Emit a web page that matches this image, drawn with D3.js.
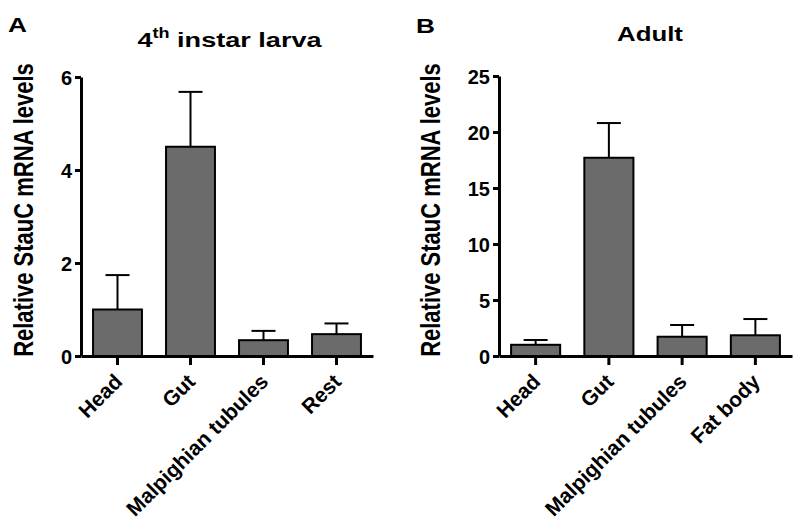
<!DOCTYPE html>
<html>
<head>
<meta charset="utf-8">
<script src="https://cdn.jsdelivr.net/npm/d3@7"></script>
<style>
  body { margin: 0; background: #fff; }
  svg text { font-family: "Liberation Sans", Arial, sans-serif; font-weight: bold; fill: #000; }
</style>
</head>
<body>
<div id="chart"></div>
<script>
// panel A - 4th instar larva
const larvaTissues = ["Head", "Gut", "Malpighian tubules", "Rest"];
const larvaMeans = [1.0, 4.5, 0.34, 0.47];
const larvaErrors = [0.74, 1.18, 0.2, 0.23];
const larvaTicks = [0, 2, 4, 6];

// panel B - adult
const adultTissues = ["Head", "Gut", "Malpighian tubules", "Fat body"];
const adultMeans = [1.0, 17.7, 1.72, 1.85];
const adultErrors = [0.43, 3.1, 1.05, 1.45];
const adultTicks = [0, 5, 10, 15, 20, 25];

const width = 800;
const height = 529;
const barFill = "#6b6b6b";
// the original figure is a bit stretched sideways for the big labels
const stretch = 1.25;

const svg = d3
  .select("#chart")
  .append("svg")
  .attr("width", width)
  .attr("height", height);

const drawPanel = (opts) => {
  const g = svg.append("g");

  const x = d3
    .scaleBand()
    .domain(opts.tissues)
    .range([opts.left, opts.right])
    .paddingInner(0.33)
    .paddingOuter(0.165);

  const y = d3
    .scaleLinear()
    .domain([0, opts.max])
    .range([opts.bottom, opts.top]);

  const rows = opts.tissues.map((t, i) => ({
    name: t,
    mean: opts.means[i],
    err: opts.errors[i],
  }));

  // error bars (upper only), drawn under the bars
  const eb = g.append("g").attr("class", "errors");
  eb.selectAll("line.stem")
    .data(rows)
    .enter()
    .append("line")
    .attr("x1", (d) => x(d.name) + x.bandwidth() / 2)
    .attr("x2", (d) => x(d.name) + x.bandwidth() / 2)
    .attr("y1", (d) => y(d.mean))
    .attr("y2", (d) => y(d.mean + d.err))
    .attr("stroke", "#000")
    .attr("stroke-width", 2);
  eb.selectAll("line.cap")
    .data(rows)
    .enter()
    .append("line")
    .attr("x1", (d) => x(d.name) + x.bandwidth() / 2 - 12)
    .attr("x2", (d) => x(d.name) + x.bandwidth() / 2 + 12)
    .attr("y1", (d) => y(d.mean + d.err))
    .attr("y2", (d) => y(d.mean + d.err))
    .attr("stroke", "#000")
    .attr("stroke-width", 2);

  g.append("g")
    .selectAll("rect")
    .data(rows)
    .enter()
    .append("rect")
    .attr("x", (d) => x(d.name))
    .attr("y", (d) => y(d.mean))
    .attr("width", x.bandwidth())
    .attr("height", (d) => y(0) - y(d.mean))
    .attr("fill", barFill)
    .attr("stroke", "#000")
    .attr("stroke-width", 2);

  const yAxis = d3
    .axisLeft(y)
    .tickValues(opts.ticks)
    .tickFormat(d3.format("d"))
    .tickSize(6)
    .tickSizeOuter(0)
    .tickPadding(3);

  const ya = g
    .append("g")
    .attr("transform", `translate(${opts.left}, 0)`)
    .call(yAxis);
  ya.selectAll("path, line").attr("stroke", "#000").attr("stroke-width", 3);
  ya.selectAll("text").style("font-size", "20px").attr("dy", "0.36em");

  const xAxis = d3.axisBottom(x).tickSize(9).tickSizeOuter(0);
  const xa = g
    .append("g")
    .attr("transform", `translate(0, ${opts.bottom})`)
    .call(xAxis);
  xa.selectAll("path, line").attr("stroke", "#000").attr("stroke-width", 3);
  xa.selectAll("text")
    .style("font-size", "21px")
    .attr("x", 0)
    .attr("y", 0)
    .attr("dy", 0)
    .attr("text-anchor", "end")
    .attr("transform", "translate(6, 27) rotate(-45)");

  g.append("text")
    .attr(
      "transform",
      `translate(${opts.labelX}, 210) scale(${stretch}, 1) rotate(-90)`
    )
    .attr("text-anchor", "middle")
    .style("font-size", "22px")
    .text("Relative StauC mRNA levels");

  g.append("text")
    .attr(
      "transform",
      `translate(${opts.letterX}, ${opts.letterY}) scale(${stretch}, 1)`
    )
    .style("font-size", "21px")
    .text(opts.letter);

  const title = g
    .append("text")
    .attr(
      "transform",
      `translate(${opts.titleX}, ${opts.titleY}) scale(${opts.titleStretch}, 1)`
    )
    .attr("text-anchor", "middle")
    .style("font-size", "21px");
  opts.title(title);
};

drawPanel({
  tissues: larvaTissues,
  means: larvaMeans,
  errors: larvaErrors,
  ticks: larvaTicks,
  max: 6,
  left: 81,
  right: 373,
  top: 77,
  bottom: 356,
  labelX: 33,
  letter: "A",
  letterX: 8,
  letterY: 32,
  titleX: 229.5,
  titleY: 47,
  titleStretch: 1.29,
  title: (t) => {
    t.append("tspan").text("4");
    t.append("tspan").attr("dy", -9).style("font-size", "14px").text("th");
    t.append("tspan").attr("dy", 9).text(" instar larva");
  },
});

drawPanel({
  tissues: adultTissues,
  means: adultMeans,
  errors: adultErrors,
  ticks: adultTicks,
  max: 25,
  left: 499,
  right: 792,
  top: 76,
  bottom: 356,
  labelX: 440,
  letter: "B",
  letterX: 416,
  letterY: 33,
  titleX: 650,
  titleY: 41,
  titleStretch: 1.23,
  title: (t) => {
    t.text("Adult");
  },
});
</script>
</body>
</html>
